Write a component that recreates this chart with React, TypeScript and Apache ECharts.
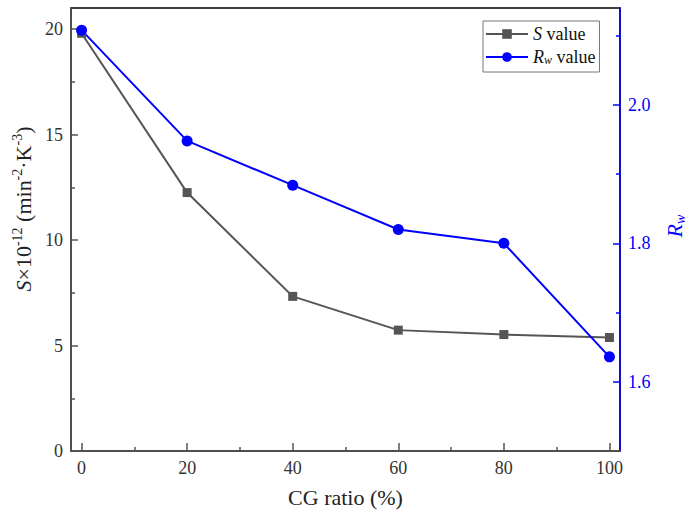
import React, { useEffect, useRef } from 'react';
import * as echarts from 'echarts';

const cgRatio = [0, 20, 40, 60, 80, 100];
const sValues = [19.8, 12.25, 7.33, 5.73, 5.52, 5.38];
const rwValues = [2.108, 1.948, 1.884, 1.82, 1.8, 1.636];

const xMajorTicks = [0, 20, 40, 60, 80, 100];
const xMinorTicks = [10, 30, 50, 70, 90];
const sMajorTicks = [0, 5, 10, 15, 20];
const sMinorTicks = [2.5, 7.5, 12.5, 17.5];
const rwMajorTicks = [1.6, 1.8, 2.0];
const rwMinorTicks = [1.7, 1.9, 2.1];

const FONT = 'Times New Roman, Liberation Serif, DejaVu Serif, serif';
const GRAY = '#555555';
const BLUE = '#0000ff';

export default function App() {
  const chartRef = useRef<HTMLDivElement>(null);

  useEffect(() => {
    if (!chartRef.current) return;
    const chart = echarts.init(chartRef.current, undefined, { renderer: 'svg' });

    const hidden = { show: false };
    const noSplit = { show: false };

    chart.setOption({
      animation: false,
      textStyle: { fontFamily: FONT },
      grid: {
        left: 71,
        right: 75,
        top: 8,
        bottom: 70,
        show: true,
        borderColor: '#000',
        borderWidth: 1.5,
      },
      legend: {
        orient: 'vertical',
        left: 483,
        top: 21,
        padding: [4, 4, 6, 2],
        itemWidth: 42,
        itemHeight: 12,
        itemGap: 5,
        borderColor: '#777',
        borderWidth: 1,
        textStyle: {
          fontFamily: FONT,
          fontSize: 18,
          color: '#111',
          rich: {
            i: { fontFamily: FONT, fontSize: 18, fontStyle: 'italic', color: '#111' },
            sub: { fontFamily: FONT, fontSize: 12, fontStyle: 'italic', color: '#111', verticalAlign: 'bottom' },
          },
        },
        formatter: (name: string) =>
          name === 'S value' ? '{i|S} value' : '{i|R}{sub|w} value',
        data: ['S value', 'Rw value'],
      },
      xAxis: [
        {
          type: 'value',
          min: -2,
          max: 102,
          name: 'CG ratio (%)',
          nameLocation: 'middle',
          nameGap: 35,
          nameTextStyle: { fontFamily: FONT, fontSize: 22, color: '#222' },
          axisLine: { onZero: false, lineStyle: { color: GRAY, width: 1.5 } },
          axisTick: { inside: true, length: 8, customValues: xMajorTicks, lineStyle: { color: GRAY, width: 1.5 } },
          axisLabel: { customValues: xMajorTicks, margin: 8, fontFamily: FONT, fontSize: 18, color: '#333' },
          splitLine: noSplit,
        },
        {
          type: 'value',
          min: -2,
          max: 102,
          position: 'bottom',
          axisLine: { show: false, onZero: false },
          axisTick: { inside: true, length: 4, customValues: xMinorTicks, lineStyle: { color: GRAY, width: 1.5 } },
          axisLabel: hidden,
          splitLine: noSplit,
        },
      ],
      yAxis: [
        {
          type: 'value',
          min: 0,
          max: 21,
          position: 'left',
          axisLine: { show: true, onZero: false, lineStyle: { color: GRAY, width: 1.5 } },
          axisTick: { show: true, inside: true, length: 7, customValues: sMajorTicks, lineStyle: { color: GRAY, width: 1.5 } },
          axisLabel: { customValues: sMajorTicks, margin: 8, fontFamily: FONT, fontSize: 18, color: '#333' },
          splitLine: noSplit,
        },
        {
          type: 'value',
          min: 0,
          max: 21,
          position: 'left',
          axisLine: { show: false, onZero: false },
          axisTick: { show: true, inside: true, length: 4, customValues: sMinorTicks, lineStyle: { color: GRAY, width: 1.5 } },
          axisLabel: hidden,
          splitLine: noSplit,
        },
        {
          type: 'value',
          min: 1.5,
          max: 2.14,
          position: 'right',
          axisLine: { show: true, onZero: false, lineStyle: { color: BLUE, width: 1.5 } },
          axisTick: { show: true, inside: true, length: 7, customValues: rwMajorTicks, lineStyle: { color: BLUE, width: 1.5 } },
          axisLabel: {
            customValues: rwMajorTicks,
            margin: 8,
            fontFamily: FONT,
            fontSize: 18,
            color: BLUE,
            formatter: (v: number) => v.toFixed(1),
          },
          splitLine: noSplit,
        },
        {
          type: 'value',
          min: 1.5,
          max: 2.14,
          position: 'right',
          axisLine: { show: false, onZero: false },
          axisTick: { show: true, inside: true, length: 4, customValues: rwMinorTicks, lineStyle: { color: BLUE, width: 1.5 } },
          axisLabel: hidden,
          splitLine: noSplit,
        },
      ],
      graphic: [
        {
          type: 'text',
          x: 23,
          y: 209,
          rotation: Math.PI / 2,
          style: {
            text: '{i|S}×10{sup|-12} (min{sup|-2}·K{sup|-3})',
            align: 'center',
            verticalAlign: 'middle',
            fontFamily: FONT,
            fontSize: 22,
            fill: '#222',
            rich: {
              i: { fontFamily: FONT, fontSize: 22, fontStyle: 'italic', fill: '#222', lineHeight: 26 },
              sup: { fontFamily: FONT, fontSize: 14, fill: '#222', verticalAlign: 'top', lineHeight: 14 },
            },
          },
        },
        {
          type: 'text',
          x: 674,
          y: 226,
          rotation: Math.PI / 2,
          style: {
            text: '{i|R}{sub|w}',
            align: 'center',
            verticalAlign: 'middle',
            fontFamily: FONT,
            fontSize: 22,
            fill: BLUE,
            rich: {
              i: { fontFamily: FONT, fontSize: 22, fontStyle: 'italic', fill: BLUE, lineHeight: 26 },
              sub: { fontFamily: FONT, fontSize: 14, fontStyle: 'italic', fill: BLUE, verticalAlign: 'bottom', lineHeight: 14 },
            },
          },
        },
      ],
      series: [
        {
          name: 'S value',
          type: 'line',
          xAxisIndex: 0,
          yAxisIndex: 0,
          data: cgRatio.map((x, i) => [x, sValues[i]]),
          symbol: 'rect',
          symbolSize: 9,
          lineStyle: { color: GRAY, width: 2 },
          itemStyle: { color: GRAY },
        },
        {
          name: 'Rw value',
          type: 'line',
          xAxisIndex: 0,
          yAxisIndex: 2,
          data: cgRatio.map((x, i) => [x, rwValues[i]]),
          symbol: 'circle',
          symbolSize: 11,
          lineStyle: { color: BLUE, width: 2 },
          itemStyle: { color: BLUE },
        },
      ],
    });

    return () => {
      chart.dispose();
    };
  }, []);

  return (
    <div
      ref={chartRef}
      style={{ position: 'fixed', left: 0, top: 0, width: 695, height: 521, background: '#fff' }}
    />
  );
}
